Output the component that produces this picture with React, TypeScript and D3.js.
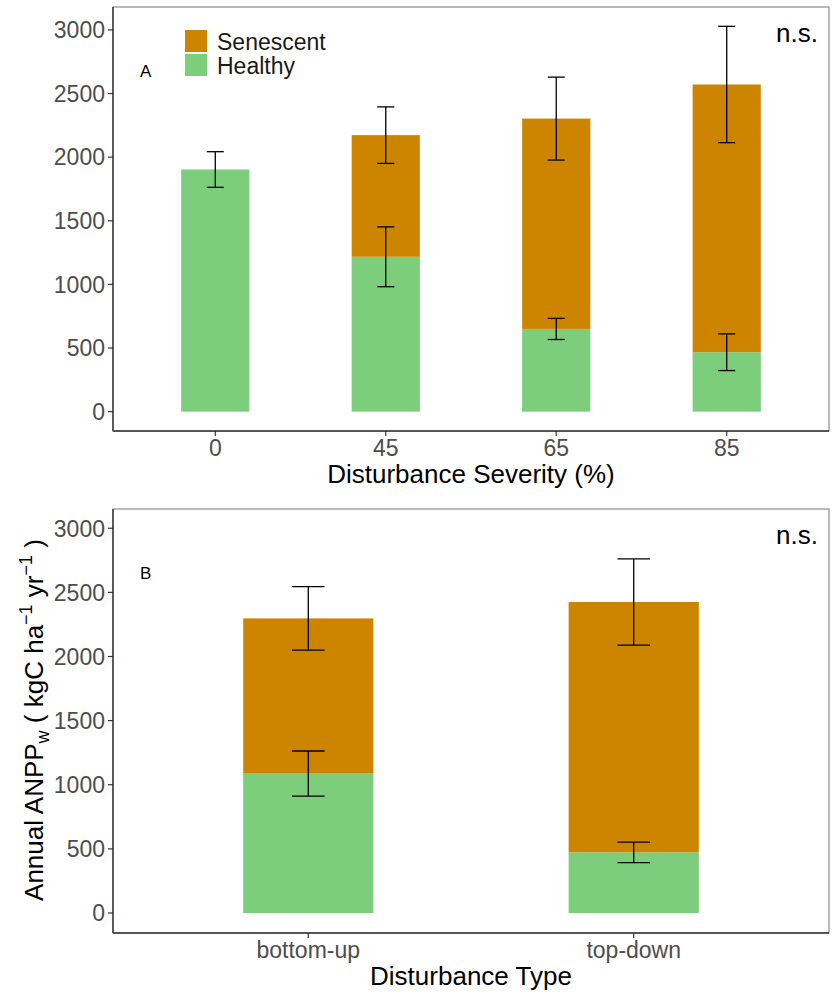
import React from "react";
import * as d3 from "d3";

// Panel A: by disturbance severity
const severityCats = ["0", "45", "65", "85"];
const severityHealthy = [1903, 1217, 650, 467];
const severityHealthySE = [140, 235, 83, 144];
const severitySenescent = [0, 956, 1653, 2104];
const severitySenescentSE = [0, 222, 326, 457];

// Panel B: by disturbance type
const typeCats = ["bottom-up", "top-down"];
const typeHealthy = [1087, 473];
const typeHealthySE = [176, 80];
const typeSenescent = [1210, 1952];
const typeSenescentSE = [248, 336];

const yTicks = [0, 500, 1000, 1500, 2000, 2500, 3000];

const COLORS = { senescent: "#CD8500", healthy: "#7CCD7C" };
const FONT = "'Liberation Sans', Arial, Helvetica, sans-serif";

const W = 833;
const H = 996;
const LEFT = 113;
const RIGHT = 829;

type PanelProps = {
  cats: string[];
  healthy: number[];
  healthySE: number[];
  senescent: number[];
  senescentSE: number[];
  top: number;
  bottom: number;
  domain: [number, number];
  label: string;
  xTitle: string;
  legend?: boolean;
};

function Panel(p: PanelProps) {
  const x = d3.scalePoint<string>().domain(p.cats).range([LEFT, RIGHT]).padding(0.6);
  const step = x.step();
  const barW = step * 0.4;
  const capW = step * 0.1;
  const y = d3.scaleLinear().domain(p.domain).range([p.bottom, p.top]);
  const stack = d3
    .stack<number>()
    .keys(["healthy", "senescent"])
    .value((i, key) => (key === "healthy" ? p.healthy[i] : p.senescent[i]));
  const series = stack(p.cats.map((_, i) => i));
  const tickColor = "#333333";
  const labelColor = "#4D4D4D";

  return (
    <g>
      {/* stacked bars */}
      {series.map((s) =>
        s.map((d, i) =>
          d[1] - d[0] > 0 ? (
            <rect
              key={s.key + i}
              x={(x(p.cats[i]) as number) - barW / 2}
              width={barW}
              y={y(d[1])}
              height={y(d[0]) - y(d[1])}
              fill={s.key === "healthy" ? COLORS.healthy : COLORS.senescent}
            />
          ) : null
        )
      )}
      {/* error bars: healthy mean and stacked total */}
      {p.cats.map((c, i) => {
        const cx = x(c) as number;
        const bars: { m: number; se: number }[] = [
          { m: p.healthy[i], se: p.healthySE[i] },
        ];
        if (p.senescent[i] > 0)
          bars.push({ m: p.healthy[i] + p.senescent[i], se: p.senescentSE[i] });
        return bars.map((b, j) => (
          <g key={c + j} stroke="#000" strokeWidth={1.3} fill="none">
            <line x1={cx} x2={cx} y1={y(b.m + b.se)} y2={y(b.m - b.se)} />
            <line x1={cx - capW / 2} x2={cx + capW / 2} y1={y(b.m + b.se)} y2={y(b.m + b.se)} />
            <line x1={cx - capW / 2} x2={cx + capW / 2} y1={y(b.m - b.se)} y2={y(b.m - b.se)} />
          </g>
        ));
      })}
      {/* panel frame */}
      <rect x={LEFT} y={p.top} width={RIGHT - LEFT} height={p.bottom - p.top} fill="none" stroke="#8c8c8c" strokeWidth={1.2} />
      <line x1={LEFT} x2={LEFT} y1={p.top} y2={p.bottom} stroke={tickColor} strokeWidth={1.4} />
      <line x1={LEFT} x2={RIGHT} y1={p.bottom} y2={p.bottom} stroke={tickColor} strokeWidth={1.4} />
      {/* y axis */}
      {yTicks.map((t) => (
        <g key={t}>
          <line x1={LEFT - 5} x2={LEFT} y1={y(t)} y2={y(t)} stroke={tickColor} strokeWidth={1.2} />
          <text x={LEFT - 8} y={y(t)} dy="0.36em" textAnchor="end" fontSize={23} fill={labelColor} fontFamily={FONT}>
            {t}
          </text>
        </g>
      ))}
      {/* x axis */}
      {p.cats.map((c) => (
        <g key={c}>
          <line x1={x(c)} x2={x(c)} y1={p.bottom} y2={p.bottom + 5} stroke={tickColor} strokeWidth={1.2} />
          <text x={x(c)} y={p.bottom + 25} textAnchor="middle" fontSize={23} fill={labelColor} fontFamily={FONT}>
            {c}
          </text>
        </g>
      ))}
      <text x={(LEFT + RIGHT) / 2} y={p.bottom + 52} textAnchor="middle" fontSize={26} fill="#000" fontFamily={FONT}>
        {p.xTitle}
      </text>
      {/* annotations */}
      <text x={140} y={p.top + 70} fontSize={17} fill="#000" fontFamily={FONT}>
        {p.label}
      </text>
      <text x={818} y={p.top + 35} textAnchor="end" fontSize={26} fill="#000" fontFamily={FONT}>
        n.s.
      </text>
      {p.legend && (
        <g fontFamily={FONT} fontSize={23} fill="#1a1a1a">
          <rect x={185} y={30} width={22} height={22} fill={COLORS.senescent} />
          <rect x={185} y={54} width={22} height={22} fill={COLORS.healthy} />
          <text x={217} y={50}>Senescent</text>
          <text x={217} y={74}>Healthy</text>
        </g>
      )}
    </g>
  );
}

export default function App() {
  return (
    <svg
      width={W}
      height={H}
      style={{ position: "absolute", left: 0, top: 0, background: "#fff" }}
    >
      <rect width={W} height={H} fill="#fff" />
      <Panel
        cats={severityCats}
        healthy={severityHealthy}
        healthySE={severityHealthySE}
        senescent={severitySenescent}
        senescentSE={severitySenescentSE}
        top={7}
        bottom={431}
        domain={[-152, 3180]}
        label="A"
        xTitle="Disturbance Severity (%)"
        legend
      />
      <Panel
        cats={typeCats}
        healthy={typeHealthy}
        healthySE={typeHealthySE}
        senescent={typeSenescent}
        senescentSE={typeSenescentSE}
        top={509}
        bottom={933}
        domain={[-156, 3150]}
        label="B"
        xTitle="Disturbance Type"
      />
      <text
        transform="translate(43,720) rotate(-90)"
        textAnchor="middle"
        fontSize={26}
        fill="#000"
        fontFamily={FONT}
      >
        Annual ANPP
        <tspan fontSize={18} dy={6}>w</tspan>
        <tspan dy={-6}> ( kgC ha</tspan>
        <tspan fontSize={18} dy={-11}>−1</tspan>
        <tspan dy={11}> yr</tspan>
        <tspan fontSize={18} dy={-11}>−1</tspan>
        <tspan dy={11}> )</tspan>
      </text>
    </svg>
  );
}
